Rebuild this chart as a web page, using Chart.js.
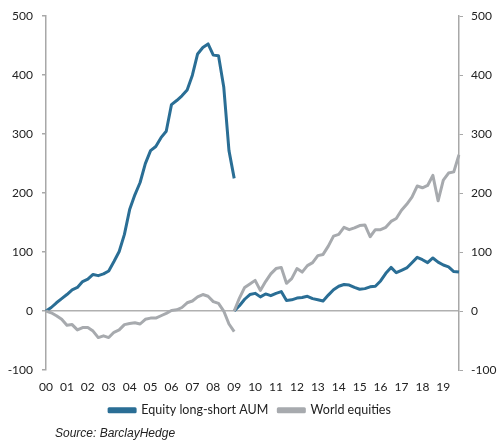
<!DOCTYPE html>
<html>
<head>
<meta charset="utf-8">
<script src="https://cdn.jsdelivr.net/npm/chart.js@4/dist/chart.umd.min.js"></script>
<style>
  html, body { margin: 0; padding: 0; background: #fff; }
  #wrap { position: relative; width: 500px; height: 443px; }
  #c { position: absolute; left: 0; top: 0; }
  #src { position: absolute; left: 55px; top: 426px; font: italic 12px "Liberation Sans", Arial, sans-serif; color: #222; }
</style>
</head>
<body>
<div id="wrap">
  <canvas id="c" width="500" height="443"></canvas>
  <div id="src">Source: BarclayHedge</div>
</div>
<script>
// Quarterly points 2000Q1 .. 2019Q4 (80 points); year tick labels
const yearLabels = ["00","01","02","03","04","05","06","07","08","09","10","11","12","13","14","15","16","17","18","19"];

// Series rebased to 0 in 2000 (up to 2009Q1), then rebased to 0 again from 2009Q1
const aumPre = [0,6,14,21,28,36,40,50,54,62,60,63,68,84,101,130,172,197,218,250,272,279,294,305,350,357,365,375,400,436,447,453,434,433,380,272,225];
const aumPost = [0,9,20,28,30,24,29,26,30,33,18,19,22,23,25,21,19,17,27,36,42,45,44,40,37,38,41,42,51,64,74,65,69,73,82,91,87,82,90,83,78,75,67,66];
const worldPre = [0,-3,-8,-14,-24,-23,-32,-28,-28,-34,-45,-42,-45,-36,-32,-23,-21,-20,-22,-14,-12,-12,-8,-4,1,2,6,14,17,24,28,25,16,13,0,-22,-35];
const worldPost = [0,22,40,46,52,35,50,63,72,74,47,55,72,66,77,82,94,96,110,127,130,142,138,141,145,146,126,138,138,142,152,157,171,181,193,212,209,213,230,187,222,234,236,265];

const seriesNames = ["Equity long-short AUM", "World equities"];
const yTicks = [-100, 0, 100, 200, 300, 400, 500];

const N = 80;
const splitIndex = aumPre.length - 1; // 2009Q1
const labels = [];
for (let i = 0; i < N; i++) labels.push(yearLabels[Math.floor(i / 4)] + "Q" + (i % 4 + 1));

function preData(arr) { const d = new Array(N).fill(null); arr.forEach((v, i) => d[i] = v); return d; }
function postData(arr) { const d = new Array(N).fill(null); arr.forEach((v, i) => d[splitIndex + i] = v); return d; }

const BLUE = "#2a6e95";
const GREY = "#a7aaae";
const FONT = "Lato";

const common = { borderWidth: 3, pointRadius: 0, pointHoverRadius: 0, tension: 0, spanGaps: false, borderCapStyle: 'butt', borderJoinStyle: 'round' };

new Chart(document.getElementById("c"), {
  type: "line",
  data: {
    labels: labels,
    datasets: [
      Object.assign({ label: seriesNames[1], data: preData(worldPre), borderColor: GREY, backgroundColor: GREY }, common),
      Object.assign({ label: seriesNames[1] + "_2", data: postData(worldPost), borderColor: GREY, backgroundColor: GREY }, common),
      Object.assign({ label: seriesNames[0], data: preData(aumPre), borderColor: BLUE, backgroundColor: BLUE }, common),
      Object.assign({ label: seriesNames[0] + "_2", data: postData(aumPost), borderColor: BLUE, backgroundColor: BLUE }, common)
    ]
  },
  options: {
    responsive: false,
    animation: false,
    layout: { padding: { top: 13, bottom: 27, left: 0, right: 0 } },
    plugins: {
      tooltip: { enabled: false },
      legend: {
        position: "bottom",
        maxHeight: 22,
        labels: {
          font: { family: FONT, size: 12.5 },
          color: "#222",
          boxWidth: 26,
          boxHeight: 3,
          padding: 10,
          filter: (item) => !item.text.endsWith("_2"),
          sort: (a, b) => a.datasetIndex === 2 ? -1 : (b.datasetIndex === 2 ? 1 : 0)
        }
      },
      title: { display: false }
    },
    scales: {
      x: {
        type: "category",
        offset: false,
        afterFit: (s) => { s.height = 24; },
        grid: { display: false, drawTicks: false },
        border: { display: false },
        ticks: {
          autoSkip: false,
          maxRotation: 0,
          minRotation: 0,
          padding: 10,
          color: "#222",
          font: { family: FONT, size: 12 },
          callback: function (val, idx) { return idx % 4 === 0 ? yearLabels[idx / 4] : ""; }
        }
      },
      y: {
        position: "left",
        min: -100, max: 500,
        afterBuildTicks: (s) => { s.ticks = yTicks.map(v => ({ value: v })); },
        afterFit: (s) => { s.width = 46; },
        border: { display: true, color: "#a8a8a8", width: 1.5 },
        grid: {
          drawOnChartArea: true,
          color: (ctx) => ctx.tick && ctx.tick.value === 0 ? "#b0b0b0" : "rgba(0,0,0,0)",
          lineWidth: 1.5,
          tickColor: "#a8a8a8",
          tickLength: 4
        },
        ticks: { color: "#222", padding: 9, font: { family: FONT, size: 12 } }
      },
      y2: {
        position: "right",
        min: -100, max: 500,
        afterBuildTicks: (s) => { s.ticks = yTicks.map(v => ({ value: v })); },
        afterFit: (s) => { s.width = 41; },
        border: { display: true, color: "#a8a8a8", width: 1.5 },
        grid: { drawOnChartArea: false, tickColor: "#a8a8a8", tickLength: 4 },
        ticks: { color: "#222", padding: 8, font: { family: FONT, size: 12 } }
      }
    }
  }
});
</script>
</body>
</html>
